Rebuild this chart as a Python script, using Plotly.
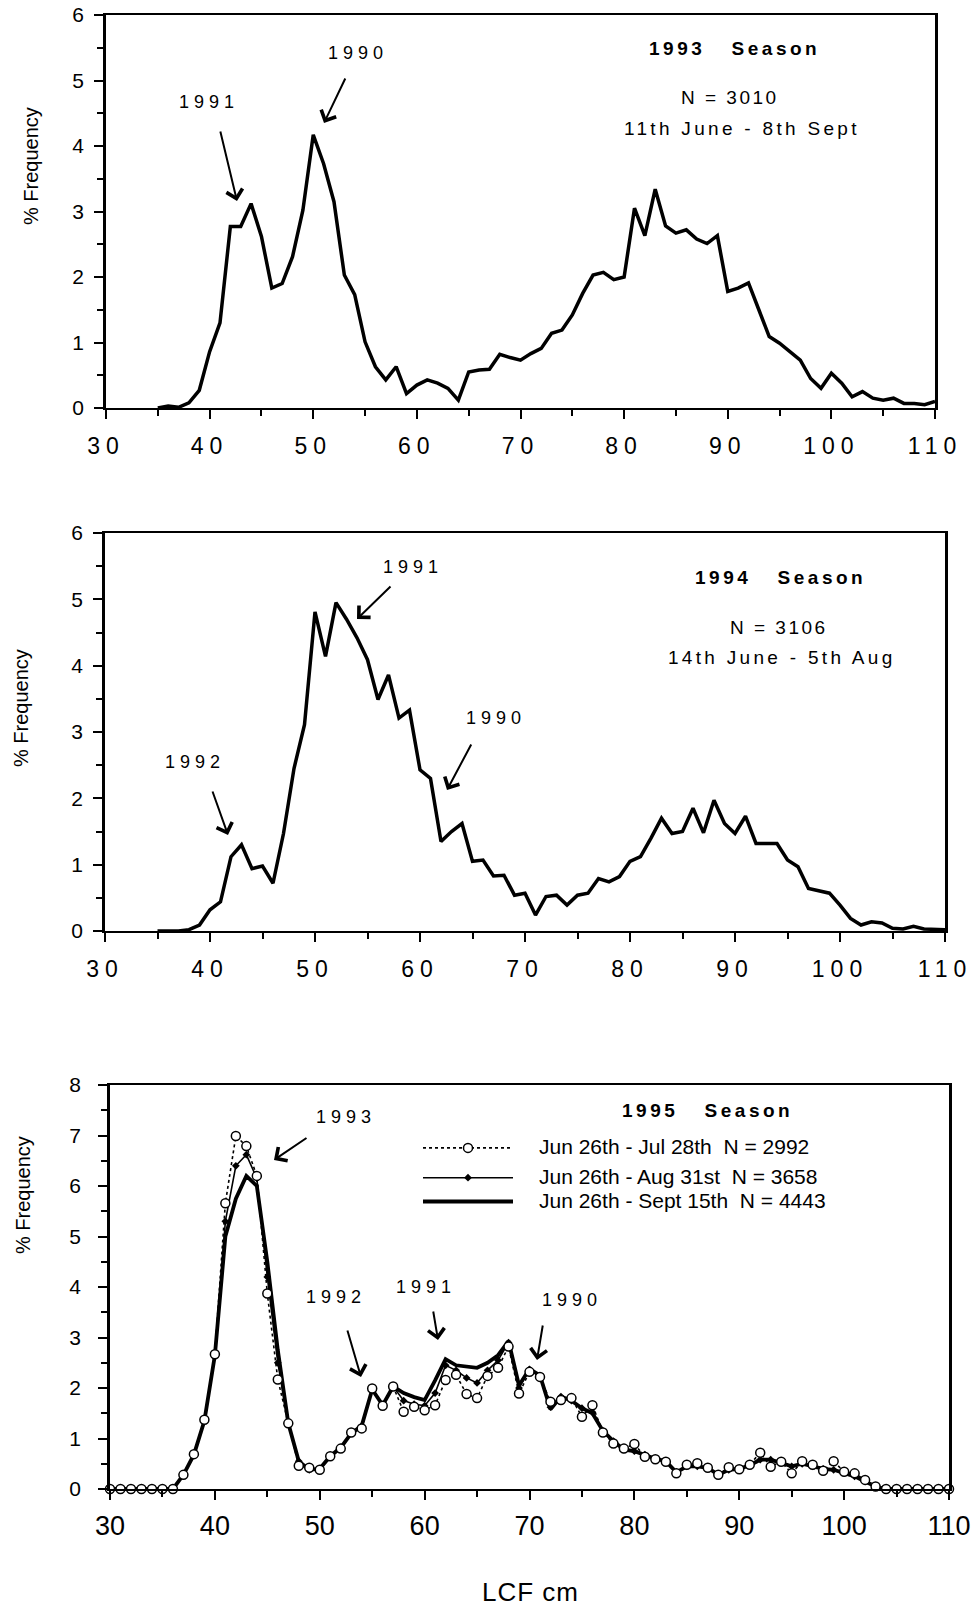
import plotly.graph_objects as go

W, H = 975, 1607

# ------------------------------------------------------------------ data
lcf_1993 = [35, 36, 37, 38, 39, 40, 41, 42, 43, 44, 45, 46, 47, 48, 49, 50, 51, 52, 53, 54,
            55, 56, 57, 58, 59, 60, 61, 62, 63, 64, 65, 66, 67, 68, 69, 70, 71, 72, 73, 74,
            75, 76, 77, 78, 79, 80, 81, 82, 83, 84, 85, 86, 87, 88, 89, 90, 91, 92, 93, 94,
            95, 96, 97, 98, 99, 100, 101, 102, 103, 104, 105, 106, 107, 108, 109, 110]
freq_1993 = [0.0, 0.03, 0.01, 0.08, 0.27, 0.86, 1.3, 2.77, 2.77, 3.12,
             2.62, 1.83, 1.9, 2.31, 3.02, 4.17, 3.73, 3.15, 2.03, 1.73,
             1.01, 0.63, 0.43, 0.63, 0.22, 0.35, 0.43, 0.38, 0.3, 0.12,
             0.55, 0.58, 0.59, 0.82, 0.77, 0.73, 0.83, 0.91, 1.14, 1.19,
             1.42, 1.75, 2.03, 2.07, 1.96, 2.0, 3.05, 2.63, 3.34, 2.78,
             2.67, 2.72, 2.58, 2.51, 2.63, 1.78, 1.83, 1.91, 1.5, 1.09,
             0.99, 0.86, 0.73, 0.45, 0.3, 0.53, 0.38, 0.17, 0.25, 0.15,
             0.12, 0.15, 0.07, 0.07, 0.05, 0.1]

lcf_1994 = list(lcf_1993)
freq_1994 = [0.0, 0.0, 0.0, 0.02, 0.09, 0.32, 0.44, 1.12, 1.3, 0.94,
             0.98, 0.72, 1.47, 2.45, 3.11, 4.81, 4.14, 4.95, 4.7, 4.42,
             4.09, 3.49, 3.86, 3.21, 3.33, 2.43, 2.3, 1.35, 1.5, 1.62,
             1.05, 1.07, 0.83, 0.84, 0.54, 0.57, 0.24, 0.52, 0.54, 0.39,
             0.54, 0.57, 0.79, 0.74, 0.82, 1.05, 1.12, 1.4, 1.7, 1.47,
             1.5, 1.85, 1.48, 1.97, 1.62, 1.47, 1.73, 1.32, 1.32, 1.32,
             1.07, 0.97, 0.64, 0.6, 0.57, 0.39, 0.19, 0.09, 0.14, 0.12,
             0.04, 0.03, 0.07, 0.03, 0.02, 0.02]

lcf_1995 = [30, 31, 32, 33, 34] + lcf_1993
freq_1995_jul28 = [0, 0, 0, 0, 0, 0, 0,
                   0.28, 0.69, 1.37, 2.67, 5.66, 6.99, 6.79, 6.2, 3.87, 2.17,
                   1.3, 0.46, 0.42, 0.38, 0.65, 0.8, 1.12, 1.2, 1.99, 1.65,
                   2.03, 1.53, 1.63, 1.56, 1.66, 2.16, 2.26, 1.88, 1.8, 2.24,
                   2.4, 2.82, 1.89, 2.32, 2.22, 1.73, 1.76, 1.8, 1.43, 1.66,
                   1.12, 0.9, 0.8, 0.89, 0.64, 0.59, 0.54, 0.31, 0.48, 0.51,
                   0.42, 0.28, 0.43, 0.39, 0.48, 0.72, 0.44, 0.54, 0.31, 0.55,
                   0.48, 0.36, 0.55, 0.34, 0.31, 0.18, 0.05, 0, 0, 0,
                   0, 0, 0, 0]
freq_1995_aug31 = [0, 0, 0, 0, 0, 0, 0,
                   0.28, 0.68, 1.35, 2.66, 5.3, 6.4, 6.62, 6.15, 4.2, 2.5,
                   1.3, 0.55, 0.38, 0.4, 0.65, 0.82, 1.1, 1.25, 1.97, 1.66,
                   2.03, 1.75, 1.68, 1.65, 1.9, 2.45, 2.35, 2.2, 2.1, 2.35,
                   2.55, 2.9, 2.0, 2.37, 2.22, 1.62, 1.83, 1.75, 1.6, 1.52,
                   1.15, 0.95, 0.78, 0.75, 0.68, 0.6, 0.55, 0.33, 0.45, 0.45,
                   0.42, 0.28, 0.38, 0.4, 0.47, 0.58, 0.58, 0.52, 0.45, 0.5,
                   0.45, 0.4, 0.38, 0.32, 0.25, 0.15, 0.05, 0, 0, 0,
                   0, 0, 0, 0]
freq_1995_sep15 = [0, 0, 0, 0, 0, 0, 0,
                   0.28, 0.68, 1.35, 2.65, 5.0, 5.75, 6.2, 6.0, 4.5, 2.75,
                   1.3, 0.55, 0.38, 0.4, 0.65, 0.82, 1.1, 1.25, 1.97, 1.66,
                   2.03, 1.9, 1.82, 1.76, 2.15, 2.57, 2.45, 2.43, 2.4, 2.5,
                   2.65, 2.93, 2.05, 2.38, 2.25, 1.58, 1.83, 1.75, 1.6, 1.5,
                   1.15, 0.95, 0.78, 0.75, 0.68, 0.6, 0.55, 0.33, 0.45, 0.45,
                   0.42, 0.28, 0.38, 0.4, 0.47, 0.58, 0.58, 0.52, 0.45, 0.5,
                   0.45, 0.4, 0.38, 0.32, 0.25, 0.15, 0.05, 0, 0, 0,
                   0, 0, 0, 0]

series_names_1995 = ["Jun 26th - Jul 28th  N = 2992",
                     "Jun 26th - Aug 31st  N = 3658",
                     "Jun 26th - Sept 15th  N = 4443"]

x_tick_vals = [30, 40, 50, 60, 70, 80, 90, 100, 110]
x_tick_labels = ["30", "40", "50", "60", "70", "80", "90", "100", "110"]
y_tick_vals_6 = [0, 1, 2, 3, 4, 5, 6]
y_tick_vals_8 = [0, 1, 2, 3, 4, 5, 6, 7, 8]

# ------------------------------------------------------------------ styling
FONT = "Liberation Sans, Arial, Helvetica, sans-serif"


def spaced(s, sp):
    return f'<span style="letter-spacing:{sp}px">{s}</span>'


def px(x):
    return x / W


def py(y):
    return 1 - y / H


def legend_name(s):
    return ('<span style="font-size:21px">' + "\u2002\u2002" +
            s.replace("  ", "\u00a0\u00a0") + "</span>")


# plot-area boxes in pixels (left, top, right, bottom)
boxes = [(106, 15, 935, 408), (105, 533, 945, 931), (110, 1085, 949, 1489)]

fig = go.Figure()

fig.add_trace(go.Scatter(x=lcf_1993, y=freq_1993, mode="lines",
                         line=dict(color="black", width=3.5), showlegend=False,
                         xaxis="x", yaxis="y"))
fig.add_trace(go.Scatter(x=lcf_1994, y=freq_1994, mode="lines",
                         line=dict(color="black", width=3.5), showlegend=False,
                         xaxis="x2", yaxis="y2"))

fig.add_trace(go.Scatter(x=lcf_1995, y=freq_1995_sep15, mode="lines",
                         name=legend_name(series_names_1995[2]),
                         line=dict(color="black", width=3.8),
                         legendgroup="b", legendrank=3,
                         xaxis="x3", yaxis="y3"))
fig.add_trace(go.Scatter(x=lcf_1995, y=freq_1995_aug31, mode="lines+markers",
                         name=legend_name(series_names_1995[1]),
                         line=dict(color="black", width=1.6),
                         marker=dict(symbol="diamond", size=6, color="black"),
                         cliponaxis=False,
                         legendgroup="b", legendrank=2,
                         xaxis="x3", yaxis="y3"))
fig.add_trace(go.Scatter(x=lcf_1995, y=freq_1995_jul28, mode="lines+markers",
                         name=legend_name(series_names_1995[0]),
                         line=dict(color="black", width=1.6, dash="dot"),
                         marker=dict(symbol="circle", size=9, color="white",
                                     line=dict(color="black", width=1.5)),
                         cliponaxis=False,
                         legendgroup="a", legendrank=1,
                         xaxis="x3", yaxis="y3"))


def xaxis_cfg(box, anchor, labels, font, standoff):
    l, t, r, b = box
    return dict(domain=[px(l), px(r)], anchor=anchor, range=[30, 110],
                tickmode="array", tickvals=x_tick_vals, ticktext=labels,
                ticks="outside", ticklen=9, tickwidth=2, tickcolor="black",
                minor=dict(tickmode="linear", tick0=30, dtick=5, ticks="outside",
                           ticklen=6, tickwidth=1.5, tickcolor="black"),
                showline=True, linewidth=2, linecolor="black", mirror=True,
                showgrid=False, zeroline=False, tickfont=font, automargin=False,
                ticklabelstandoff=standoff, layer="above traces")


def yaxis_cfg(box, anchor, top, vals, font, standoff):
    l, t, r, b = box
    return dict(domain=[py(b), py(t)], anchor=anchor, range=[0, top],
                tickmode="array", tickvals=vals,
                ticks="outside", ticklen=9, tickwidth=2, tickcolor="black",
                minor=dict(tickmode="linear", tick0=0, dtick=0.5, ticks="outside",
                           ticklen=6, tickwidth=1.5, tickcolor="black"),
                showline=True, linewidth=2.5, linecolor="black", mirror=True,
                showgrid=False, zeroline=False, tickfont=font, automargin=False,
                ticklabelstandoff=standoff, layer="above traces")


spaced_labels = [spaced(t, 6) for t in x_tick_labels]
tick_font_12 = dict(family=FONT, size=23, color="black")
tick_font_3 = dict(family=FONT, size=27, color="black")
ytick_font = dict(family=FONT, size=21, color="black")

fig.update_layout(
    xaxis=xaxis_cfg(boxes[0], "y", spaced_labels, tick_font_12, 7),
    yaxis=yaxis_cfg(boxes[0], "x", 6, y_tick_vals_6, ytick_font, 6),
    xaxis2=xaxis_cfg(boxes[1], "y2", spaced_labels, tick_font_12, 7),
    yaxis2=yaxis_cfg(boxes[1], "x2", 6, y_tick_vals_6, ytick_font, 6),
    xaxis3=xaxis_cfg(boxes[2], "y3", x_tick_labels, tick_font_3, 3),
    yaxis3=yaxis_cfg(boxes[2], "x3", 8, y_tick_vals_8, ytick_font, 13),
)

annotations = []


def label(text, x, y, size=18, bold=False, sp=3, angle=0, anchor="center"):
    t = spaced(text, sp) if sp else text
    if bold:
        t = "<b>" + t + "</b>"
    annotations.append(dict(text=t, x=px(x), y=py(y), xref="paper", yref="paper",
                            xanchor=anchor, yanchor="middle", showarrow=False,
                            textangle=angle,
                            font=dict(family=FONT, size=size, color="black")))


def arrow(tail, head):
    annotations.append(dict(text="", x=px(head[0]), y=py(head[1]), xref="paper",
                            yref="paper", axref="pixel", ayref="pixel",
                            ax=tail[0] - head[0], ay=tail[1] - head[1],
                            showarrow=True, arrowhead=4, arrowsize=1.6,
                            arrowwidth=2, arrowcolor="black", standoff=0))


NB = "\u00a0"
# panel 1
label("1991", 209, 102, sp=5)
arrow((220, 130), (237, 201))
label("1990", 358, 53, sp=5)
arrow((346, 77), (324, 123))
label("1993" + NB * 3 + "Season", 734, 48, size=19, bold=True, sp=3.5)
label("N = 3010", 730, 98, size=19, sp=2.5)
label("11th June - 8th Sept", 742, 128, size=19, sp=3.3)
# panel 2
label("1991", 413, 567, sp=5)
arrow((392, 585), (357, 619))
label("1992", 195, 762, sp=5)
arrow((212, 790), (228, 835))
label("1990", 496, 718, sp=5)
arrow((472, 743), (447, 790))
label("1994" + NB * 3 + "Season", 780, 577, size=19, bold=True, sp=3.5)
label("N = 3106", 779, 627, size=19, sp=2.5)
label("14th June - 5th Aug", 782, 657, size=19, sp=3.3)
# panel 3
label("1993", 346, 1117, sp=5)
arrow((308, 1137), (274, 1160))
label("1992", 336, 1297, sp=5)
arrow((347, 1329), (361, 1377))
label("1991", 426, 1287, sp=5)
arrow((433, 1310), (438, 1340))
label("1990", 572, 1300, sp=5)
arrow((543, 1324), (537, 1360))
label("1995" + NB * 3 + "Season", 707, 1110, size=19, bold=True, sp=3.5)
# axis titles
for (yx, yy) in [(31, 166), (21, 708), (23, 1195)]:
    label("% Frequency", yx, yy, size=20, sp=0, angle=-90)
label("LCF cm", 530, 1592, size=26, sp=1)

fig.update_layout(
    annotations=annotations,
    width=W, height=H, autosize=False,
    margin=dict(l=0, r=0, t=0, b=0, pad=0, autoexpand=False),
    paper_bgcolor="white", plot_bgcolor="white",
    font=dict(family=FONT, color="black"),
    showlegend=True,
    legend=dict(x=px(418), y=py(1131), xanchor="left", yanchor="top",
                itemwidth=90, traceorder="grouped", tracegroupgap=6,
                font=dict(family=FONT, size=16, color="black"),
                bgcolor="rgba(0,0,0,0)", borderwidth=0),
)

fig.write_html("out.html")
